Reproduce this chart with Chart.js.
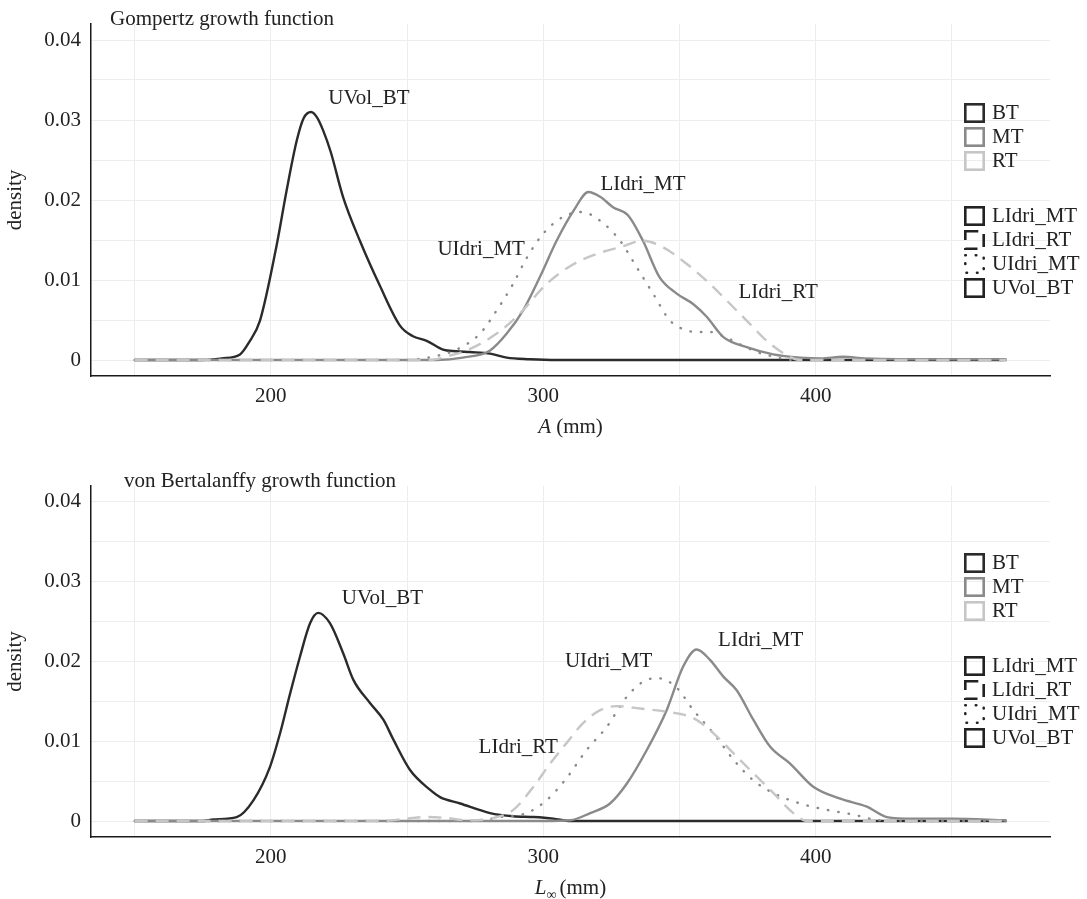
<!DOCTYPE html>
<html>
<head>
<meta charset="utf-8">
<script src="https://cdn.jsdelivr.net/npm/chart.js@4.4.0/dist/chart.umd.min.js"></script>
<style>
html, body { margin: 0; padding: 0; background: #fff; }
.panel { position: absolute; left: 0; width: 1087px; }
#p1 { top: 0; height: 450px; }
#p2 { top: 450px; height: 449px; }
</style>
</head>
<body>
<div class="panel" id="p1"><canvas id="chart-gompertz"></canvas></div>
<div class="panel" id="p2"><canvas id="chart-vbgf"></canvas></div>
<script>
// ════════════════════════════════════════
// DATA
// ════════════════════════════════════════

// axes
const xGridValues = [150, 200, 250, 300, 350, 400, 450];
const xTickLabels = ['', '200', '', '300', '', '400', ''];
const yGridValues = [0, 0.005, 0.01, 0.015, 0.02, 0.025, 0.03, 0.035, 0.04];
const yTickLabels = ['0', '', '0.01', '', '0.02', '', '0.03', '', '0.04'];

// --- Gompertz: asymptotic size A (mm) ---
const gompUVolBT_x = [150, 175, 182, 188.7, 192, 196, 202, 205.8, 209.5, 212, 214.8, 217, 219.2, 222, 226.5, 232.7, 240, 247.4, 252, 257.2, 263.2, 268, 273.1, 280.5, 286.6, 295, 305, 470];
const gompUVolBT_y = [0, 0, 0.0002, 0.0007, 0.0022, 0.0049, 0.0141, 0.0212, 0.0274, 0.0302, 0.031, 0.0303, 0.0287, 0.026, 0.0204, 0.0149, 0.0093, 0.0043, 0.003, 0.0024, 0.0013, 0.0011, 0.001, 0.0008, 0.0003, 0.0001, 0, 0];

const gompLIdriMT_x = [150, 255, 260.9, 270.5, 280.5, 286.6, 292.6, 298.8, 304.9, 311.2, 316.6, 320.9, 325.6, 331.1, 336.6, 342.6, 349, 355, 360, 366, 374.7, 384.4, 394.3, 402, 410, 418, 430, 470];
const gompLIdriMT_y = [0, 0, 0, 0.0003, 0.0012, 0.0033, 0.0062, 0.0104, 0.0149, 0.0187, 0.021, 0.0204, 0.0191, 0.0181, 0.0149, 0.0104, 0.0083, 0.007, 0.0054, 0.0029, 0.0016, 0.0007, 0.0003, 0.0002, 0.0004, 0.0002, 0.0001, 0.0001];

const gompUIdriMT_x = [150, 250, 255.9, 262, 268.2, 276.8, 282.9, 288.9, 294, 300, 307.3, 314.1, 320.9, 328.2, 334.3, 340.3, 346.6, 352.7, 357, 361.2, 366, 372, 378.4, 385, 392, 470];
const gompUIdriMT_y = [0, 0, 0.0002, 0.0006, 0.0013, 0.0033, 0.0062, 0.0095, 0.0128, 0.0158, 0.0179, 0.0185, 0.0174, 0.0149, 0.0116, 0.0083, 0.0049, 0.0037, 0.0035, 0.0035, 0.003, 0.002, 0.001, 0.0004, 0, 0];

const gompLIdriRT_x = [150, 252, 258.5, 265, 271.9, 282.9, 291.4, 301.2, 311.2, 319.9, 328.2, 336.6, 343.9, 352.7, 361.2, 368.6, 375.9, 382, 389.4, 394.3, 470];
const gompLIdriRT_y = [0, 0, 0, 0.0005, 0.0012, 0.0033, 0.0058, 0.0095, 0.012, 0.0133, 0.0141, 0.0149, 0.0141, 0.012, 0.0095, 0.007, 0.0045, 0.0024, 0.0006, 0, 0];

// --- von Bertalanffy: asymptotic length L∞ (mm) ---
const vbUVolBT_x = [150, 175, 178.9, 187.5, 193.6, 199.7, 203.4, 207.1, 210.7, 214.4, 217.4, 221.7, 226.6, 230.3, 236.4, 241.3, 245, 251.1, 258.5, 262.1, 269.5, 280.5, 289, 296.4, 303.7, 310, 470];
const vbUVolBT_y = [0, 0, 0.0002, 0.0005, 0.0026, 0.0068, 0.011, 0.016, 0.0206, 0.0248, 0.0261, 0.0248, 0.021, 0.0177, 0.0148, 0.0127, 0.0102, 0.0064, 0.0039, 0.003, 0.0022, 0.001, 0.0006, 0.0005, 0.0003, 0, 0];

const vbLIdriMT_x = [150, 300, 310, 317.2, 324.5, 330.7, 338, 345.3, 351.4, 356.3, 361.2, 366.1, 371, 377.1, 383.3, 390.6, 399.1, 409, 418.8, 426.1, 435.9, 450, 470];
const vbLIdriMT_y = [0, 0, 0.0001, 0.001, 0.0022, 0.0047, 0.0089, 0.0139, 0.0194, 0.0215, 0.0202, 0.0181, 0.0164, 0.0127, 0.0093, 0.0072, 0.0043, 0.0028, 0.0018, 0.0005, 0.0003, 0.0003, 0.0001];

const vbUIdriMT_x = [150, 275, 284.1, 293.9, 301.2, 308.6, 315.9, 323.3, 330.7, 338, 342.3, 349, 355.1, 362.5, 369.8, 377.1, 384.5, 394.3, 404.1, 413.9, 421.2, 428, 470];
const vbUIdriMT_y = [0, 0, 0.0005, 0.001, 0.0026, 0.0054, 0.0089, 0.0118, 0.0156, 0.0177, 0.0179, 0.0167, 0.0139, 0.011, 0.0077, 0.0051, 0.0035, 0.0022, 0.0014, 0.0008, 0.0002, 0, 0];

const vbLIdriRT_x = [150, 240, 250, 257, 264, 272, 280.5, 289, 296.4, 302.5, 308.6, 314.7, 320.9, 327, 335.5, 345.3, 355.1, 362.5, 369.8, 377.1, 384.5, 391.8, 396.7, 470];
const vbLIdriRT_y = [0, 0, 0.0003, 0.0005, 0.0004, 0.0001, 0.0003, 0.0014, 0.0043, 0.0072, 0.0098, 0.0123, 0.0139, 0.0144, 0.0141, 0.0137, 0.0129, 0.011, 0.0085, 0.006, 0.0035, 0.001, 0, 0];

// curve labels: [text, x value, density]
const gompLabels = [['UVol_BT', 236, 0.0327], ['LIdri_MT', 336.6, 0.0219], ['UIdri_MT', 277.2, 0.0138], ['LIdri_RT', 386.2, 0.0084]];
const vbLabels = [['UVol_BT', 241, 0.0279], ['LIdri_MT', 379.8, 0.0226], ['UIdri_MT', 324, 0.02], ['LIdri_RT', 290.8, 0.0092]];

// legends
const regionKeys = ['BT', 'MT', 'RT'];
const populationKeys = ['LIdri_MT', 'LIdri_RT', 'UIdri_MT', 'UVol_BT'];

// ════════════════════════════════════════
// STYLES
// ════════════════════════════════════════

const FONT = '"Liberation Serif", "DejaVu Serif", serif';
const INK = '#222222';
const REGION_COLORS = { BT: '#2b2b2b', MT: '#8a8a8a', RT: '#c6c6c6' };
const POP_DASH = { LIdri_MT: [], LIdri_RT: [13, 8], UIdri_MT: [0.5, 10], UVol_BT: [] };
const POP_REGION = { LIdri_MT: 'MT', LIdri_RT: 'RT', UIdri_MT: 'MT', UVol_BT: 'BT' };

function toPoints(xs, ys) {
    return xs.map((x, i) => ({ x, y: ys[i] }));
}

function makeDataset(pop, xs, ys) {
    return {
        label: pop,
        data: toPoints(xs, ys),
        borderColor: REGION_COLORS[POP_REGION[pop]],
        borderWidth: 2.4,
        borderDash: POP_DASH[pop],
        borderCapStyle: pop === 'UIdri_MT' ? 'round' : 'butt',
        pointRadius: 0,
        fill: false,
        cubicInterpolationMode: 'monotone',
    };
}

// ════════════════════════════════════════
// DECORATION PLUGIN: titles, curve labels, legend
// ════════════════════════════════════════

const decorPlugin = {
    id: 'decor',
    afterDraw(chart, args, opts) {
        const { ctx, chartArea, scales } = chart;
        ctx.save();
        ctx.fillStyle = INK;

        // panel title
        ctx.font = `21px ${FONT}`;
        ctx.textAlign = 'left';
        ctx.textBaseline = 'alphabetic';
        ctx.fillText(opts.title, chartArea.left + opts.titleOffset, chartArea.top + 1);

        // y axis title
        ctx.save();
        ctx.translate(15, (chartArea.top + chartArea.bottom) / 2);
        ctx.rotate(-Math.PI / 2);
        ctx.textAlign = 'center';
        ctx.textBaseline = 'middle';
        ctx.fillText('density', 0, 0);
        ctx.restore();

        // x axis title (italic symbol)
        const ty = chartArea.bottom + 51;
        const cx = (chartArea.left + chartArea.right) / 2;
        ctx.textBaseline = 'middle';
        ctx.textAlign = 'left';
        ctx.font = `italic 21px ${FONT}`;
        const wSym = ctx.measureText(opts.symbol).width;
        ctx.font = `14px ${FONT}`;
        const wSub = opts.sub ? ctx.measureText(opts.sub).width + 3 : 0;
        ctx.font = `21px ${FONT}`;
        const unit = opts.sub ? '(mm)' : ' (mm)';
        const wUnit = ctx.measureText(unit).width;
        let x0 = cx - (wSym + wSub + wUnit) / 2;
        ctx.font = `italic 21px ${FONT}`;
        ctx.fillText(opts.symbol, x0, ty);
        x0 += wSym;
        if (opts.sub) {
            ctx.font = `14px ${FONT}`;
            ctx.fillText(opts.sub, x0, ty + 7);
            x0 += wSub;
        }
        ctx.font = `21px ${FONT}`;
        ctx.fillText(unit, x0, ty);

        // curve labels
        ctx.textAlign = 'center';
        opts.labels.forEach(([txt, xv, yv]) => {
            ctx.fillText(txt, scales.x.getPixelForValue(xv), scales.y.getPixelForValue(yv));
        });

        // legend
        const kx = 964, kw = 21, kh = 20, tx = 992;
        ctx.textAlign = 'left';
        ctx.lineWidth = 2.6;
        regionKeys.forEach((r, i) => {
            const yc = 113 + i * 24;
            ctx.setLineDash([]);
            ctx.strokeStyle = REGION_COLORS[r];
            ctx.strokeRect(kx + 1.3, yc - kh / 2 + 1.3, kw - 2.6, kh - 2.6);
            ctx.fillText(r, tx, yc);
        });
        populationKeys.forEach((p, i) => {
            const yc = 216 + i * 24;
            ctx.setLineDash(POP_DASH[p]);
            ctx.lineCap = p === 'UIdri_MT' ? 'round' : 'butt';
            ctx.strokeStyle = INK;
            ctx.strokeRect(kx + 1.3, yc - kh / 2 + 1.3, kw - 2.6, kh - 2.6);
            ctx.fillText(p, tx, yc);
        });
        ctx.restore();
    }
};

// ════════════════════════════════════════
// CHART BUILDER
// ════════════════════════════════════════

function renderPanel(canvasId, height, areaTop, areaBottom, datasets, decor) {
    const ctx = document.getElementById(canvasId);
    return new Chart(ctx, {
        type: 'line',
        data: { datasets },
        options: {
            responsive: true,
            maintainAspectRatio: false,
            animation: false,
            layout: { padding: { left: 0, right: 37, top: areaTop, bottom: 0 } },
            plugins: {
                legend: { display: false },
                tooltip: { enabled: false },
                decor,
            },
            scales: {
                x: {
                    type: 'linear',
                    min: 134,
                    max: 486,
                    afterFit: s => { s.height = height - areaBottom; },
                    afterBuildTicks: s => { s.ticks = xGridValues.map(value => ({ value })); },
                    border: { display: true, color: '#1a1a1a', width: 1.5 },
                    grid: { color: '#ededed', lineWidth: 1, drawTicks: false },
                    ticks: {
                        autoSkip: false,
                        maxRotation: 0,
                        padding: 8,
                        color: INK,
                        font: { family: FONT, size: 21 },
                        callback: (v, i) => xTickLabels[i],
                    },
                },
                y: {
                    min: -0.002,
                    max: 0.042,
                    afterFit: s => { s.width = 91; },
                    afterBuildTicks: s => { s.ticks = yGridValues.map(value => ({ value })); },
                    border: { display: true, color: '#1a1a1a', width: 1.5 },
                    grid: { color: '#ededed', lineWidth: 1, drawTicks: false },
                    ticks: {
                        autoSkip: false,
                        padding: 10,
                        color: INK,
                        font: { family: FONT, size: 21 },
                        callback: (v, i) => yTickLabels[i],
                    },
                },
            },
        },
        plugins: [decorPlugin],
    });
}

renderPanel('chart-gompertz', 450, 24, 376, [
    makeDataset('LIdri_RT', gompLIdriRT_x, gompLIdriRT_y),
    makeDataset('UIdri_MT', gompUIdriMT_x, gompUIdriMT_y),
    makeDataset('LIdri_MT', gompLIdriMT_x, gompLIdriMT_y),
    makeDataset('UVol_BT', gompUVolBT_x, gompUVolBT_y),
], { title: 'Gompertz growth function', titleOffset: 19, symbol: 'A', sub: '', labels: gompLabels });

renderPanel('chart-vbgf', 449, 36, 387, [
    makeDataset('LIdri_RT', vbLIdriRT_x, vbLIdriRT_y),
    makeDataset('UIdri_MT', vbUIdriMT_x, vbUIdriMT_y),
    makeDataset('LIdri_MT', vbLIdriMT_x, vbLIdriMT_y),
    makeDataset('UVol_BT', vbUVolBT_x, vbUVolBT_y),
], { title: 'von Bertalanffy growth function', titleOffset: 33, symbol: 'L', sub: '∞', labels: vbLabels });
</script>
</body>
</html>
